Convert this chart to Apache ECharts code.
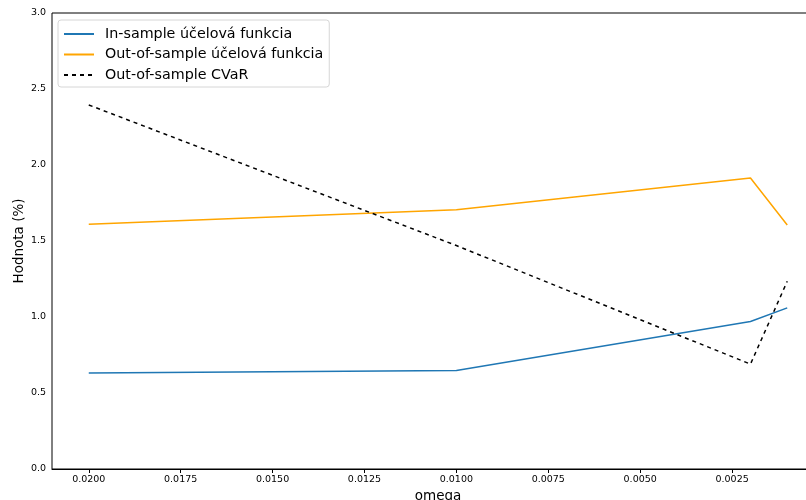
<!DOCTYPE html>
<html>
<head>
<meta charset="utf-8">
<script src="https://cdn.jsdelivr.net/npm/echarts@6/dist/echarts.min.js"></script>
<style>
  html, body { margin: 0; padding: 0; background: #fff; overflow: hidden; }
  /* plot area runs slightly past the right edge of the page */
  #chart { width: 824px; height: 500px; }
</style>
</head>
<body>
<div id="chart"></div>
<script>
// omega values (x axis, drawn decreasing from left to right)
const omega = [0.02, 0.01, 0.002, 0.001];
// values in percent
const inSampleObj = [0.632, 0.648, 0.970, 1.060];
const outSampleObj = [1.610, 1.705, 1.914, 1.605];
const outSampleCVaR = [2.395, 1.470, 0.690, 1.235];

const xTicks = [0.02, 0.0175, 0.015, 0.0125, 0.01, 0.0075, 0.005, 0.0025];

const font = 'DejaVu Sans';
const pairs = vals => omega.map((o, i) => [o, vals[i]]);

const chart = echarts.init(document.getElementById('chart'), null, { renderer: 'canvas' });
chart.setOption({
  animation: false,
  backgroundColor: '#fff',
  grid: {
    left: 52, right: 0, top: 13, bottom: 31,
    outerBoundsMode: 'none', containLabel: false,
    show: true, borderColor: '#000', borderWidth: 1, backgroundColor: 'transparent'
  },
  legend: {
    orient: 'vertical',
    left: 58, top: 20,
    padding: [7, 6, 5, 5],
    itemGap: 6.5,
    itemWidth: 30, itemHeight: 14,
    backgroundColor: 'rgba(255,255,255,0.8)',
    borderColor: '#d6d6d6', borderWidth: 1, borderRadius: 3,
    itemStyle: { opacity: 0 },
    textStyle: { fontFamily: font, fontSize: 14.3, color: '#000', padding: [0, 0, 0, 6] },
    data: ['In-sample účelová funkcia', 'Out-of-sample účelová funkcia', 'Out-of-sample CVaR']
  },
  xAxis: {
    type: 'value', inverse: true, min: 0, max: 0.021,
    name: 'omega', nameLocation: 'middle', nameGap: 20,
    nameTextStyle: { fontFamily: font, fontSize: 13.5, color: '#000' },
    axisLine: { show: true, lineStyle: { color: '#000', width: 1 } },
    axisTick: { show: true, length: 4, lineStyle: { color: '#000' }, customValues: xTicks },
    axisLabel: {
      fontFamily: font, fontSize: 9.5, color: '#000', margin: 6,
      customValues: xTicks, formatter: v => v.toFixed(4)
    },
    splitLine: { show: false }
  },
  yAxis: {
    type: 'value', min: 0, max: 3, interval: 0.5,
    name: 'Hodnota (%)', nameLocation: 'middle', nameGap: 26, nameMoveOverlap: false,
    nameTextStyle: { fontFamily: font, fontSize: 13.5, color: '#000' },
    axisLine: { show: true, lineStyle: { color: '#000', width: 1 } },
    axisTick: { show: true, length: 4, lineStyle: { color: '#000' } },
    axisLabel: {
      fontFamily: font, fontSize: 9.5, color: '#000', margin: 6,
      formatter: v => v.toFixed(1)
    },
    splitLine: { show: false }
  },
  series: [
    {
      name: 'In-sample účelová funkcia', type: 'line', data: pairs(inSampleObj),
      symbol: 'none', lineStyle: { color: '#1f77b4', width: 1.5 }, itemStyle: { color: '#1f77b4' }
    },
    {
      name: 'Out-of-sample účelová funkcia', type: 'line', data: pairs(outSampleObj),
      symbol: 'none', lineStyle: { color: '#ffa500', width: 1.5 }, itemStyle: { color: '#ffa500' }
    },
    {
      name: 'Out-of-sample CVaR', type: 'line', data: pairs(outSampleCVaR),
      symbol: 'none', lineStyle: { color: '#000', width: 1.5, type: [4, 4] }, itemStyle: { color: '#000' }
    }
  ]
});
</script>
</body>
</html>
